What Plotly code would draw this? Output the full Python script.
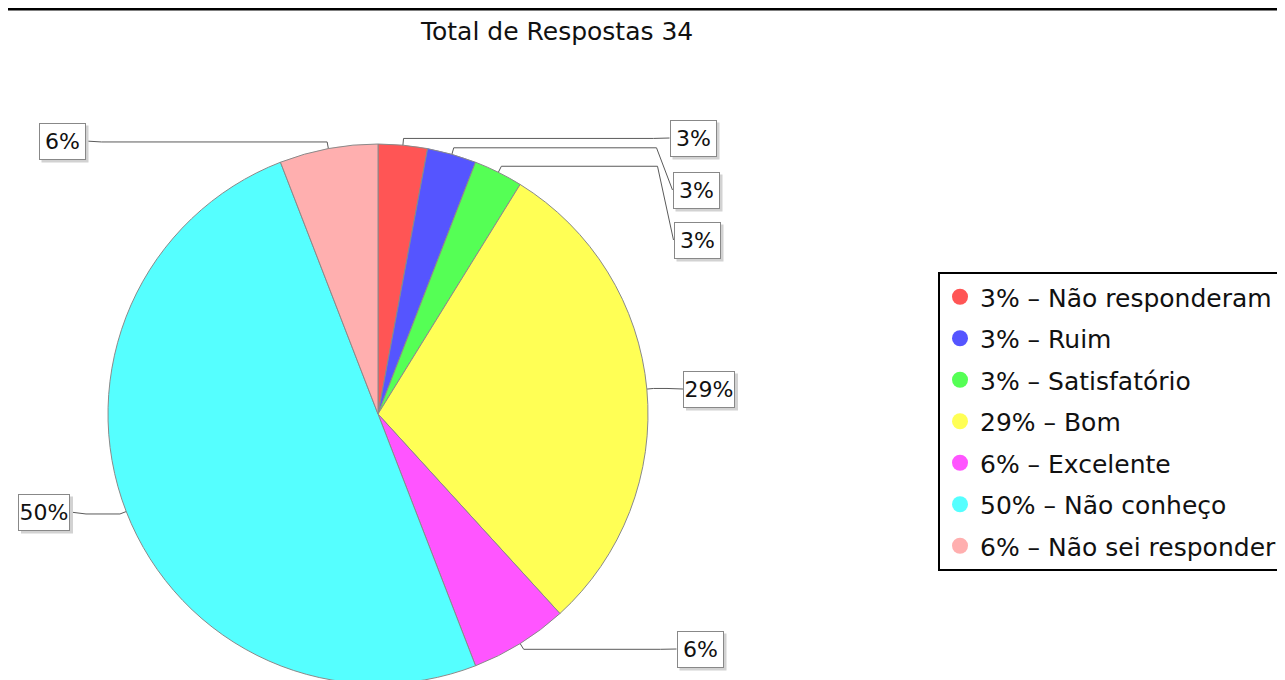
import math
import plotly.graph_objects as go

# ---- data ----
categories = ["Não responderam", "Ruim", "Satisfatório", "Bom", "Excelente", "Não conheço", "Não sei responder"]
counts = [1, 1, 1, 10, 2, 17, 2]
colors = ["#FF5555", "#5555FF", "#55FF55", "#FFFF55", "#FF55FF", "#55FFFF", "#FFAFAF"]
title_text = "Total de Respostas 34"

total = sum(counts)
pcts = [round(c / total * 100) for c in counts]

# ---- layout constants ----
W, H = 1285, 680
OFF = 8                      # page body margin: figure origin sits at (8, 8) on screen
CX, CY, R = 378, 414, 270    # screen pixels
FONT = "DejaVu Sans"
BOX_H = 37

# label box centres (screen px), side
label_boxes = [
    (693, 138, "r"),
    (696, 190, "r"),
    (697, 240, "r"),
    (709, 389, "r"),
    (700, 649, "r"),
    (44, 512, "l"),
    (62, 141, "l"),
]

fig = go.Figure()

fx, fy = CX - OFF, CY - OFF   # figure px
fig.add_trace(go.Pie(
    labels=categories, values=counts, sort=False, direction="clockwise", rotation=0,
    marker=dict(colors=colors, line=dict(color="#8a8a8a", width=1)),
    textinfo="none", hoverinfo="label+percent", showlegend=False,
    domain=dict(x=[(fx - R) / W, (fx + R) / W], y=[(H - fy - R) / H, (H - fy + R) / H]),
))

# connectors + label boxes
cum = 0
for i, c in enumerate(counts):
    mid = (cum + c / 2) / total
    cum += c
    th = 2 * math.pi * mid
    s, co = math.sin(th), math.cos(th)
    ix, iy = CX + 0.9 * R * s, CY - 0.9 * R * co
    ex, ey = CX + 1.025 * R * s, CY - 1.025 * R * co
    bx, by, side = label_boxes[i]
    hw = 26 if pcts[i] >= 10 else 23.5
    if side == "r":
        edge = bx - hw
        bend = edge - 16
    else:
        edge = bx + hw
        bend = edge + 16
    xs = [ix, ex, bend, edge]
    ys = [iy, ey, ey, by]
    fig.add_trace(go.Scatter(x=xs, y=ys, mode="lines", line=dict(color="#5a5a5a", width=1),
                             hoverinfo="skip", showlegend=False, xaxis="x", yaxis="y"))
    # shadow
    fig.add_shape(type="rect", xref="x", yref="y", x0=bx - hw + 3, x1=bx + hw + 3,
                  y0=by - BOX_H / 2 + 3, y1=by + BOX_H / 2 + 3,
                  fillcolor="#d2d2d2", line=dict(width=0), layer="above")
    fig.add_annotation(x=bx, y=by, xref="x", yref="y", text=f"{pcts[i]}%", showarrow=False,
                       font=dict(family=FONT, size=22, color="#111"), bgcolor="white",
                       bordercolor="#888", borderwidth=1, borderpad=0,
                       width=2 * hw - 2, height=BOX_H - 2, align="center", valign="middle")

# legend entries
for i, name in enumerate(categories):
    fig.add_trace(go.Scatter(x=[None], y=[None], mode="markers",
                             marker=dict(symbol="circle", size=17, color=colors[i]),
                             name=f"{pcts[i]}% – {name}", legendgroup=str(i), showlegend=True))

fig.add_annotation(x=556, y=31, xref="x", yref="y", text=title_text, showarrow=False,
                   font=dict(family=FONT, size=25, color="#111"))

fig.add_shape(type="line", xref="paper", yref="y", x0=0, x1=1, y0=9, y1=9,
              line=dict(color="black", width=3))

fig.update_layout(
    width=W, height=H, margin=dict(l=0, r=0, t=0, b=0),
    paper_bgcolor="white", plot_bgcolor="rgba(0,0,0,0)",
    xaxis=dict(range=[OFF, W + OFF], visible=False, domain=[0, 1], fixedrange=True),
    yaxis=dict(range=[H + OFF, OFF], visible=False, domain=[0, 1], fixedrange=True),
    legend=dict(x=(938 - OFF) / W, y=1 - (272 - OFF) / H, xanchor="left", yanchor="top",
                bordercolor="black", borderwidth=2, bgcolor="white",
                font=dict(family=FONT, size=25, color="#111"),
                traceorder="grouped", tracegroupgap=6, itemclick=False),
)

fig.write_html("out.html")
